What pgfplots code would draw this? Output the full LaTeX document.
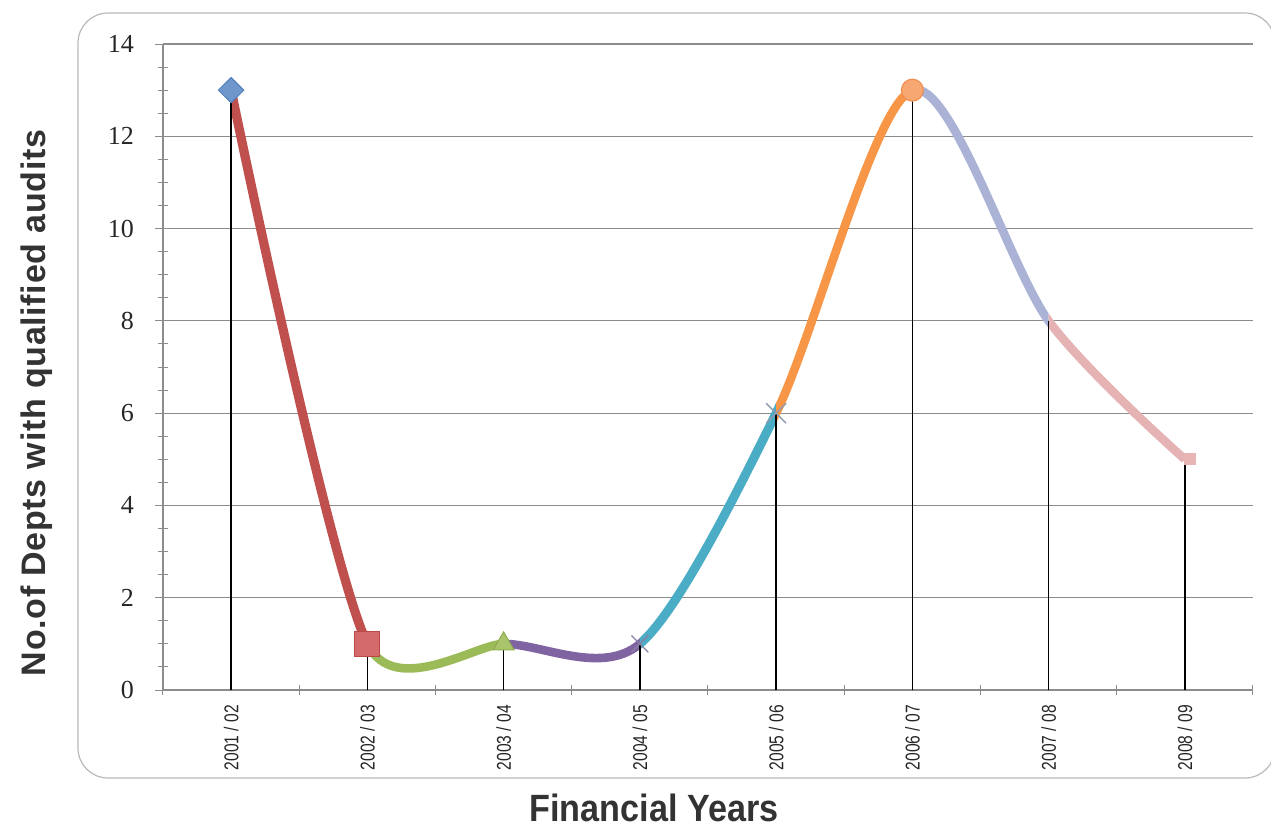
\documentclass[border=0pt]{standalone}
\usepackage{fontspec}
\setmainfont{Liberation Serif}
\newfontfamily\sansnarrow[FakeStretch=0.78]{Liberation Sans}
\newfontfamily\sanslabel[FakeStretch=0.9]{Liberation Sans}
\newfontfamily\sansylabel[LetterSpace=2]{Liberation Sans}
\usepackage{pgfplots}
\usepackage{pgfplotstable}
\pgfplotsset{compat=1.18}
\definecolor{sred}{HTML}{C0504D}
\definecolor{sgreen}{HTML}{9BBB59}
\definecolor{spurple}{HTML}{8064A2}
\definecolor{steal}{HTML}{4BACC6}
\definecolor{sorange}{HTML}{F79646}
\definecolor{slav}{HTML}{AAB3D6}
\definecolor{spink}{HTML}{E5B3B3}
\definecolor{gridc}{HTML}{8C8C8C}
\definecolor{mblueF}{HTML}{6F97CC}
\definecolor{mblueD}{HTML}{4F81BD}
\definecolor{mredF}{HTML}{D46A6A}
\definecolor{mredD}{HTML}{B94A48}
\definecolor{mgreenF}{HTML}{A9C46C}
\definecolor{mgreenD}{HTML}{8FAD4E}
\definecolor{mpurple}{HTML}{8A7FA8}
\definecolor{mgray}{HTML}{8E9AAE}
\definecolor{morangeF}{HTML}{F7A872}
\definecolor{morangeD}{HTML}{F08A4B}
\definecolor{mpink}{HTML}{E8B4B4}
\pgfplotstableread{
x y
0 13
1 1
2 1
3 1
4 6
5 13
6 8
7 5
}\data
\begin{document}
\begin{tikzpicture}
\draw[gray!55, line width=0.6pt, rounded corners=15pt] (-42.5pt,-44pt) rectangle (556pt,338.5pt);
\begin{axis}[
  at={(0,0)}, anchor=south west,
  width=545pt, height=323pt, scale only axis,
  xmin=-0.5, xmax=7.5, ymin=0, ymax=14,
  axis lines=left,
  axis line style={-, draw=gridc, line width=0.6pt},
  xtick={0,...,7},
  xticklabels={2001 / 02,2002 / 03,2003 / 04,2004 / 05,2005 / 06,2006 / 07,2007 / 08,2008 / 09},
  minor xtick={-0.5,0.5,...,7.5},
  major x tick style=transparent,
  ytick={0,2,...,14},
  minor y tick num=3,
  ymajorgrids,
  grid style={gridc, line width=0.6pt},
  tick style={gridc, line width=0.5pt},
  tick align=center,
  major tick length=8pt, minor tick length=5pt,
  /pgf/number format/assume math mode=true,
  yticklabel style={font=\fontsize{13}{15}\selectfont, text=black!85, xshift=-7pt},
  xticklabel style={font=\sansnarrow\fontsize{10}{12}\selectfont, rotate=90, anchor=east, text=black!85},
  ylabel={No.of Depts with qualified audits},
  xlabel={Financial Years},
  every axis y label/.style={at={(axis description cs:0,0.5)}, xshift=-63pt, yshift=-18pt, anchor=center, rotate=90, font=\sansylabel\bfseries\fontsize{17}{20}\selectfont, text=black!80},
  every axis x label/.style={at={(axis description cs:0.4505,0)}, anchor=center, yshift=-59pt, font=\sanslabel\bfseries\fontsize{19}{22}\selectfont, text=black!80},
]
\begin{scope}
\clip (axis cs:0,-1) rectangle (axis cs:1,15);
\addplot[smooth, tension=0.5, sred, line width=4.6pt, no marks] table {\data};
\end{scope}
\begin{scope}
\clip (axis cs:1,-1) rectangle (axis cs:2,15);
\addplot[smooth, tension=0.36, sgreen, line width=4.3pt, no marks] table {\data};
\end{scope}
\begin{scope}
\clip (axis cs:2,-1) rectangle (axis cs:3,15);
\addplot[smooth, tension=0.5, spurple, line width=4.3pt, no marks] table {\data};
\end{scope}
\begin{scope}
\clip (axis cs:3,-1) rectangle (axis cs:4,15);
\addplot[smooth, tension=0.5, steal, line width=4.5pt, no marks] table {\data};
\end{scope}
\begin{scope}
\clip (axis cs:4,-1) rectangle (axis cs:5,15);
\addplot[smooth, tension=0.5, sorange, line width=4.3pt, no marks] table {\data};
\end{scope}
\begin{scope}
\clip (axis cs:5,-1) rectangle (axis cs:6,15);
\addplot[smooth, tension=0.5, slav, line width=4.3pt, no marks] table {\data};
\end{scope}
\begin{scope}
\clip (axis cs:6,-1) rectangle (axis cs:7,15);
\addplot[smooth, tension=0.5, spink, line width=4.3pt, no marks] table {\data};
\end{scope}
% markers
\addplot[only marks, mark=diamond*, mark size=6.3pt, mark options={xscale=1.35, fill=mblueF, draw=mblueD, line width=0.5pt}] coordinates {(0,13)};
\addplot[only marks, mark=square*, mark size=6.3pt, mark options={fill=mredF, draw=mredD, line width=0.5pt}] coordinates {(1,1)};
\addplot[only marks, mark=triangle*, mark size=6pt, mark options={fill=mgreenF, draw=mgreenD, line width=0.5pt}] coordinates {(2,1)};
\addplot[only marks, mark=x, mark size=6pt, mark options={draw=mpurple, line width=0.7pt}] coordinates {(3,1)};
\addplot[only marks, mark=x, mark size=7pt, mark options={draw=mgray, line width=0.7pt}] coordinates {(4,6)};
\addplot[only marks, mark=*, mark size=5.5pt, mark options={fill=morangeF, draw=morangeD, line width=0.5pt}] coordinates {(5,13)};
\addplot[only marks, mark=square*, mark size=2.8pt, mark options={fill=mpink, draw=mpink, xshift=2.5pt}] coordinates {(7,5)};
% drop lines
\addplot[ycomb, black, line width=0.8pt, no marks] table {\data};
\end{axis}
\pgfresetboundingbox
\useasboundingbox (-81.5pt,-68.5pt) rectangle (554pt,345pt);
\end{tikzpicture}
\end{document}
